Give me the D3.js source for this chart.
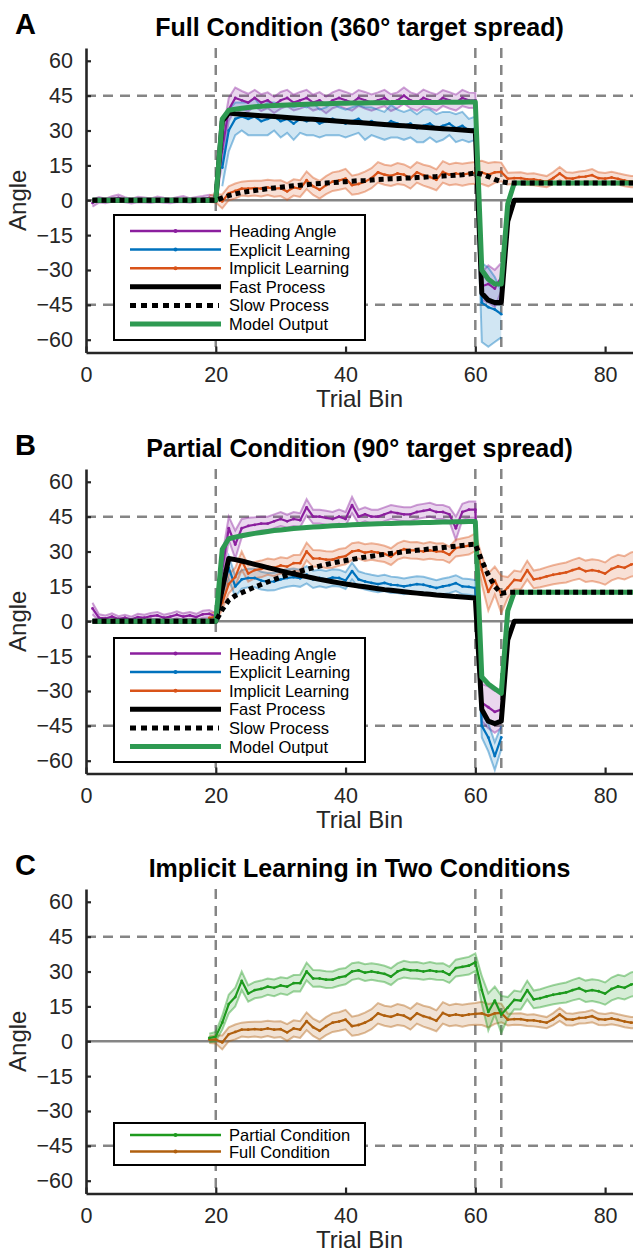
<!DOCTYPE html>
<html>
<head>
<meta charset="utf-8">
<script src="https://cdn.jsdelivr.net/npm/d3@7"></script>
<style>
  body { margin: 0; background: #fff; }
  svg { display: block; font-family: "Liberation Sans", Arial, sans-serif; }
</style>
</head>
<body>
<div id="chart"></div>
<script>
// ---- data ----
var yTicks = [-60, -45, -30, -15, 0, 15, 30, 45, 60];
var xTicks = [0, 20, 40, 60, 80];
var refDashX = [20, 60, 64];
var refDashY = [-45, 45];

// heading angle, bins 1..64
var headA = [-1.2, 0.2, -0.3, 0.5, 1.0, 0.2, -0.4, 0.3, 0.1, -0.2, 0.4, 0.0, -0.3, 0.2, 0.5, -0.1, 0.3, 0.6, 1.0, 0.3,
  22, 39, 44, 43, 42, 44, 42, 43, 41, 43, 44, 42, 43, 44, 42, 43, 41, 43, 44, 43,
  42, 44, 43, 42, 43, 44, 42, 43, 45, 43, 42, 44, 43, 42, 44, 43, 42, 44, 43, 43,
  -37, -36, -38, -33];
var headA_sem = [1.5, 1.2, 1.0, 1.2, 1.4, 1.1, 1.0, 1.2, 1.1, 1.0, 1.2, 1.1, 1.0, 1.1, 1.3, 1.0, 1.1, 1.2, 1.4, 1.2,
  6, 5, 4.5, 4, 3.8, 3.5, 3.6, 3.4, 3.5, 3.6, 3.5, 3.4, 3.6, 3.5, 3.4, 3.5, 3.6, 3.4, 3.5, 3.6,
  3.5, 3.4, 3.6, 3.5, 3.4, 3.5, 3.6, 3.4, 3.5, 3.4, 3.5, 3.6, 3.4, 3.5, 3.4, 3.5, 3.4, 3.5, 3.3, 3.2,
  6, 8, 8, 6];
var headB = [5.5, 1.5, 1.2, 2, 1, 1.5, 0.8, 1.8, 1.5, 2.2, 2.5, 1.5, 2, 2.8, 2, 2.5, 1.8, 3, 3.2, 2,
  22, 40, 33, 40, 41, 41.5, 42, 42, 43, 44, 43, 44, 43.5, 49, 45, 45, 44.5, 44, 45, 44,
  50, 45, 46, 45, 45, 46, 47, 46.5, 46, 46, 47, 47.5, 48, 47, 47, 46, 40, 47, 48, 48,
  -35, -37, -39, -38];
var headB_sem = [2.5, 1.5, 1.3, 1.4, 1.2, 1.3, 1.2, 1.4, 1.3, 1.4, 1.5, 1.3, 1.4, 1.5, 1.4, 1.5, 1.4, 1.5, 1.6, 1.5,
  6, 5, 6, 4, 3.5, 3.2, 3, 3, 3, 3, 2.8, 3, 3, 3.5, 3, 3, 3, 3, 3, 3,
  3.5, 3, 3, 3, 3, 3, 3, 3, 3, 3, 3, 3, 3, 3, 3, 3, 5, 3.5, 3.5, 3.5,
  8, 9, 9, 8];

// explicit learning, bins 21..64
var explA = [14, 30, 35, 36, 35, 36, 34, 35, 36, 34, 35, 33, 35, 34, 35, 33, 34, 35, 34, 33,
  34, 35, 33, 34, 33, 32, 34, 33, 32, 33, 31, 32, 33, 31, 32, 33, 31, 32, 30, 31,
  -44, -46, -47, -49];
var explA_sem = [8, 9, 7, 6, 7, 8, 6, 7, 6, 7, 6, 7, 6, 6, 7, 6, 6, 7, 6, 6,
  6, 6, 7, 6, 6, 6, 7, 6, 6, 6, 6, 7, 6, 6, 6, 5, 6, 6, 5, 5,
  17, 17, 14, 10];
var explB = [12, 23, 15, 18, 18.6, 18.6, 17.5, 17, 17.1, 18, 18.6, 19, 18.5, 20, 18, 18.6, 18, 18.8, 18.6, 17.5,
  21.6, 18, 17.1, 16.5, 16, 16.5, 15.7, 15.5, 15, 15.5, 16, 15.7, 15, 14.3, 15, 15.5, 16.4, 15, 14.8, 14.3,
  -45, -50, -58, -50];
var explB_sem = [5, 5, 4.5, 4, 4, 4, 3.8, 3.8, 3.8, 3.8, 3.8, 3.7, 3.7, 3.7, 3.7, 3.6, 3.6, 3.6, 3.6, 3.6,
  3.6, 3.5, 3.5, 3.5, 3.5, 3.5, 3.5, 3.4, 3.4, 3.4, 3.4, 3.4, 3.4, 3.4, 3.4, 3.4, 3.4, 3.4, 3.4, 3.4,
  5, 6, 6, 5];

// implicit learning, bins 19..85
var implFull = [0.7, 0.8,
  -0.5, 3, 4, 5, 5, 5.2, 5, 5.5, 5, 5.2, 3.8, 5.5, 5, 8.6, 6, 4.5, 6.5, 8, 8.5, 9.3,
  6.5, 7, 8, 9.5, 12, 11, 10.5, 11.5, 11, 9.5, 12, 10.8, 10, 8.8, 12.2, 11, 11.5, 11, 11.5, 11.8,
  12, 11, 12, 12.2, 9.3, 9.5, 9.5, 9, 9, 8.5, 8, 9.5, 11.5, 9.5, 9.3, 10, 10.2, 10.8, 9.5, 9.3,
  9.8, 9.2, 8.5, 8, 8];
var implFull_sem = [1.5, 1.8,
  3, 3, 3.2, 3, 3.3, 3.2, 3.4, 3.3, 3.5, 3.4, 3.6, 3.5, 3.6, 3.8, 3.7, 3.8, 3.9, 4, 4, 4.2,
  4.1, 4.2, 4.3, 4.3, 4.4, 4.3, 4.4, 4.5, 4.4, 4.5, 4.4, 4.5, 4.6, 4.5, 4.6, 4.5, 4.6, 4.7, 4.6, 4.7,
  5, 5, 4.5, 4, 2.5, 2.4, 2.5, 2.4, 2.6, 2.5, 2.4, 2.6, 2.8, 2.6, 2.5, 2.4, 2.5, 2.6, 2.5, 2.4,
  2.5, 2.4, 2.5, 2.4, 2.5];
var implPart = [1.4, 2,
  8, 16, 19, 26, 20.5, 22, 22.5, 23.5, 23, 24, 23.5, 25, 25, 30, 27, 27, 26.5, 26.5, 27.5, 28,
  30, 30.5, 29.5, 30, 29.5, 29, 27.8, 30, 31, 30.5, 30.5, 30, 30.5, 30, 30, 28.6, 31.5, 32, 32.5, 34,
  22, 12.6, 17.5, 11.5, 14.5, 17.8, 17.5, 22, 18, 18.5, 19.3, 20, 20.5, 21, 22, 22.8, 21.5, 22, 21.5, 20.5,
  22.5, 23.6, 23, 24.4, 25];
var implPart_sem = [1.8, 2,
  3, 4, 4, 4, 3.5, 3.5, 3.6, 3.5, 3.6, 3.5, 3.6, 3.5, 3.6, 3.8, 3.6, 3.5, 3.6, 3.5, 3.6, 3.5,
  3.6, 3.5, 3.6, 3.5, 3.6, 3.5, 3.6, 3.5, 3.6, 3.5, 3.6, 3.5, 3.6, 3.5, 3.6, 3.5, 3.6, 3.7, 3.8, 3.8,
  6, 8, 6, 8, 4.5, 4, 3.8, 4, 3.8, 3.9, 4, 4.1, 4.2, 4.3, 4.4, 4.5, 4.6, 4.7, 4.8, 4.8,
  4.9, 5, 5, 5.2, 5.3];

// model states, bins 1..85
var fastA = [0, 0, 0, 0, 0, 0, 0, 0, 0, 0, 0, 0, 0, 0, 0, 0, 0, 0, 0, 0,
  34, 37.5, 37.2, 37, 36.8, 36.6, 36.4, 36.2, 36, 35.8, 35.6, 35.4, 35.2, 35, 34.8, 34.6, 34.4, 34.2, 34, 33.8,
  33.6, 33.4, 33.2, 33, 32.8, 32.6, 32.4, 32.2, 32, 31.8, 31.6, 31.4, 31.2, 31, 30.8, 30.6, 30.4, 30.2, 30, 29.8,
  -40, -43, -44, -44, -9, 0,
  0, 0, 0, 0, 0, 0, 0, 0, 0, 0, 0, 0, 0, 0, 0, 0, 0, 0, 0];
var slowA = [0, 0, 0, 0, 0, 0, 0, 0, 0, 0, 0, 0, 0, 0, 0, 0, 0, 0, 0, 0,
  1, 2, 2.7, 3.3, 3.8, 4.2, 4.6, 5, 5.3, 5.6, 5.9, 6.2, 6.5, 6.7, 7, 7.2, 7.4, 7.6, 7.8, 8,
  8.2, 8.4, 8.5, 8.7, 8.9, 9, 9.2, 9.3, 9.5, 9.6, 9.8, 9.9, 10.1, 10.2, 10.4, 10.6, 10.8, 11, 11.3, 11.8,
  11.2, 10.2, 9, 8, 7.5, 7.4,
  7.4, 7.4, 7.4, 7.4, 7.4, 7.4, 7.4, 7.4, 7.4, 7.4, 7.4, 7.4, 7.4, 7.4, 7.4, 7.4, 7.4, 7.4, 7.4];
var modelA = [0, 0, 0, 0, 0, 0, 0, 0, 0, 0, 0, 0, 0, 0, 0, 0, 0, 0, 0, 0,
  35, 38.7, 39.2, 39.6, 39.9, 40.2, 40.4, 40.6, 40.8, 40.9, 41, 41.1, 41.2, 41.3, 41.4, 41.5, 41.5, 41.6, 41.7, 41.7,
  41.8, 41.8, 41.8, 41.9, 41.9, 41.9, 42, 42, 42, 42, 42.1, 42.1, 42.1, 42.1, 42.2, 42.2, 42.2, 42.2, 42.3, 42.3,
  -30, -34, -36, -36, -1.5, 7.4,
  7.4, 7.4, 7.4, 7.4, 7.4, 7.4, 7.4, 7.4, 7.4, 7.4, 7.4, 7.4, 7.4, 7.4, 7.4, 7.4, 7.4, 7.4, 7.4];
var fastB = [0, 0, 0, 0, 0, 0, 0, 0, 0, 0, 0, 0, 0, 0, 0, 0, 0, 0, 0, 0,
  14, 27, 26.5, 25.9, 25.2, 24.5, 23.8, 23.1, 22.4, 21.7, 21, 20.4, 19.8, 19.2, 18.6, 18, 17.5, 17, 16.5, 16,
  15.6, 15.2, 14.8, 14.4, 14, 13.6, 13.3, 13, 12.7, 12.4, 12.1, 11.8, 11.6, 11.3, 11.1, 10.9, 10.6, 10.4, 10.2, 10,
  -38, -43, -44, -43, -8, 0,
  0, 0, 0, 0, 0, 0, 0, 0, 0, 0, 0, 0, 0, 0, 0, 0, 0, 0, 0];
var slowB = [0, 0, 0, 0, 0, 0, 0, 0, 0, 0, 0, 0, 0, 0, 0, 0, 0, 0, 0, 0,
  5, 9, 11, 12.3, 13.5, 14.7, 15.8, 16.9, 17.9, 18.9, 19.8, 20.7, 21.5, 22.3, 23, 23.7, 24.4, 25, 25.6, 26.1,
  26.6, 27.1, 27.6, 28, 28.4, 28.8, 29.2, 29.5, 29.9, 30.2, 30.5, 30.8, 31.1, 31.4, 31.7, 32, 32.3, 32.6, 32.9, 33.2,
  26, 20, 15, 12, 12.5, 12.5,
  12.5, 12.5, 12.5, 12.5, 12.5, 12.5, 12.5, 12.5, 12.5, 12.5, 12.5, 12.5, 12.5, 12.5, 12.5, 12.5, 12.5, 12.5, 12.5];
var modelB = [0, 0, 0, 0, 0, 0, 0, 0, 0, 0, 0, 0, 0, 0, 0, 0, 0, 0, 0, 0,
  31, 35.5, 36.2, 36.8, 37.3, 37.8, 38.2, 38.6, 39, 39.3, 39.6, 39.9, 40.1, 40.3, 40.5, 40.7, 40.9, 41.1, 41.2, 41.3,
  41.5, 41.6, 41.7, 41.8, 41.9, 42, 42.1, 42.2, 42.3, 42.3, 42.4, 42.5, 42.5, 42.6, 42.7, 42.7, 42.8, 42.8, 42.9, 42.9,
  -24, -27, -29, -31, 4.5, 12.5,
  12.5, 12.5, 12.5, 12.5, 12.5, 12.5, 12.5, 12.5, 12.5, 12.5, 12.5, 12.5, 12.5, 12.5, 12.5, 12.5, 12.5, 12.5, 12.5];

// ---- colours ----
var cHead = "#8B1F9E", cExpl = "#0072BD", cImpl = "#D95319", cModel = "#2E9A52",
    cPart = "#1E9A1E", cFull = "#B0600F", cRef = "#858585", cAxis = "#262626";

// ---- layout ----
var W = 633, H = 1251, PH = 304.5;
var x = d3.scaleLinear().domain([0, 84.3]).range([86, 633]);

var svg = d3.select("#chart").append("svg").attr("width", W).attr("height", H);

function pts(start, vals) {
  return vals.map(function(v, i) { return { b: start + i, v: v }; });
}
function band(start, mean, sem) {
  return mean.map(function(m, i) { return { b: start + i, lo: m - sem[i], hi: m + sem[i] }; });
}

var panels = [
  { top: 48, letter: "A", title: "Full Condition (360° target spread)",
    series: [
      { start: 1, mean: headA, sem: headA_sem, color: cHead },
      { start: 21, mean: explA, sem: explA_sem, color: cExpl },
      { start: 19, mean: implFull, sem: implFull_sem, color: cImpl }],
    fast: fastA, slow: slowA, model: modelA,
    legend: { y0: 167, h: 125, r0: 183, sp: 18.6,
      items: [["Heading Angle", cHead, "data"], ["Explicit Learning", cExpl, "data"], ["Implicit Learning", cImpl, "data"],
              ["Fast Process", "#000", "fast"], ["Slow Process", "#000", "slow"], ["Model Output", cModel, "model"]] } },
  { top: 469, letter: "B", title: "Partial Condition (90° target spread)",
    series: [
      { start: 1, mean: headB, sem: headB_sem, color: cHead },
      { start: 21, mean: explB, sem: explB_sem, color: cExpl },
      { start: 19, mean: implPart, sem: implPart_sem, color: cImpl }],
    fast: fastB, slow: slowB, model: modelB,
    legend: { y0: 169, h: 124, r0: 184.5, sp: 18.6,
      items: [["Heading Angle", cHead, "data"], ["Explicit Learning", cExpl, "data"], ["Implicit Learning", cImpl, "data"],
              ["Fast Process", "#000", "fast"], ["Slow Process", "#000", "slow"], ["Model Output", cModel, "model"]] } },
  { top: 889, letter: "C", title: "Implicit Learning in Two Conditions",
    series: [
      { start: 19, mean: implFull, sem: implFull_sem, color: cFull },
      { start: 19, mean: implPart, sem: implPart_sem, color: cPart }],
    legend: { y0: 234, h: 42, r0: 246, sp: 16.6,
      items: [["Partial Condition", cPart, "data"], ["Full Condition", cFull, "data"]] } }
];

panels.forEach(function(p, pi) {
  var y = d3.scaleLinear().domain([-65.5, 65.5]).range([p.top + PH, p.top]);
  var g = svg.append("g");

  g.append("clipPath").attr("id", "clip" + pi)
    .append("rect").attr("x", x(0)).attr("y", p.top).attr("width", W - x(0)).attr("height", PH);
  var plot = g.append("g").attr("clip-path", "url(#clip" + pi + ")");

  // reference lines
  plot.append("line").attr("x1", x(0)).attr("x2", W).attr("y1", y(0)).attr("y2", y(0))
    .attr("stroke", cRef).attr("stroke-width", 2.5);
  refDashY.forEach(function(v) {
    plot.append("line").attr("x1", x(0)).attr("x2", W).attr("y1", y(v)).attr("y2", y(v))
      .attr("stroke", cRef).attr("stroke-width", 2.5).attr("stroke-dasharray", "10,7");
  });
  refDashX.forEach(function(v) {
    plot.append("line").attr("x1", x(v)).attr("x2", x(v)).attr("y1", p.top).attr("y2", p.top + PH)
      .attr("stroke", cRef).attr("stroke-width", 2.5).attr("stroke-dasharray", "10,7");
  });

  var area = d3.area().x(function(d) { return x(d.b); })
    .y0(function(d) { return y(d.lo); }).y1(function(d) { return y(d.hi); });
  var lineLo = d3.line().x(function(d) { return x(d.b); }).y(function(d) { return y(d.lo); });
  var lineHi = d3.line().x(function(d) { return x(d.b); }).y(function(d) { return y(d.hi); });
  var line = d3.line().x(function(d) { return x(d.b); }).y(function(d) { return y(d.v); });

  // shaded error bands
  p.series.forEach(function(s) {
    var bd = band(s.start, s.mean, s.sem);
    plot.append("path").datum(bd).attr("d", area).attr("fill", s.color).attr("fill-opacity", 0.18);
    [lineLo, lineHi].forEach(function(l) {
      plot.append("path").datum(bd).attr("d", l).attr("fill", "none")
        .attr("stroke", s.color).attr("stroke-opacity", 0.42).attr("stroke-width", 2);
    });
  });
  // mean lines
  p.series.forEach(function(s) {
    var d = pts(s.start, s.mean);
    plot.append("path").datum(d).attr("d", line).attr("fill", "none")
      .attr("stroke", s.color).attr("stroke-width", 2.2).attr("stroke-linejoin", "round");
    plot.selectAll(null).data(d).enter().append("circle")
      .attr("cx", function(q) { return x(q.b); }).attr("cy", function(q) { return y(q.v); })
      .attr("r", 1.4).attr("fill", s.color);
  });

  // model states
  if (p.fast) {
    plot.append("path").datum(pts(1, p.fast)).attr("d", line).attr("fill", "none")
      .attr("stroke", "#000").attr("stroke-width", 5).attr("stroke-linejoin", "round");
    plot.append("path").datum(pts(1, p.model)).attr("d", line).attr("fill", "none")
      .attr("stroke", cModel).attr("stroke-width", 5).attr("stroke-linejoin", "round");
    plot.append("path").datum(pts(1, p.slow)).attr("d", line).attr("fill", "none")
      .attr("stroke", "#000").attr("stroke-width", 5).attr("stroke-dasharray", "5,4");
  }

  // legend
  var L = p.legend;
  var lg = g.append("g");
  lg.append("rect").attr("x", 114).attr("y", p.top + L.y0).attr("width", 251).attr("height", L.h)
    .attr("fill", "#fff").attr("stroke", "#000").attr("stroke-width", 2);
  L.items.forEach(function(it, i) {
    var ry = p.top + L.r0 + i * L.sp;
    var ln = lg.append("line").attr("x1", 130).attr("x2", 221).attr("y1", ry).attr("y2", ry).attr("stroke", it[1]);
    if (it[2] === "data") {
      ln.attr("stroke-width", 2.5);
      lg.append("circle").attr("cx", 175.5).attr("cy", ry).attr("r", 2).attr("fill", it[1]);
    } else if (it[2] === "slow") {
      ln.attr("stroke-width", 5).attr("stroke-dasharray", "6,5").attr("x2", 219);
    } else {
      ln.attr("stroke-width", 5);
    }
    lg.append("text").attr("x", 229).attr("y", ry + 6).attr("font-size", "16.5px").attr("fill", "#000").text(it[0]);
  });

  // axes
  var ya = g.append("g").attr("transform", "translate(" + x(0) + ",0)")
    .call(d3.axisLeft(y).tickValues(yTicks).tickSizeInner(-5).tickSizeOuter(0).tickPadding(13));
  var xa = g.append("g").attr("transform", "translate(0," + (p.top + PH) + ")")
    .call(d3.axisBottom(x).tickValues(xTicks).tickSizeInner(-6).tickSizeOuter(0).tickPadding(14));
  [ya, xa].forEach(function(a) {
    a.select(".domain").attr("stroke", cAxis).attr("stroke-width", 2.6);
    a.selectAll(".tick line").attr("stroke", cAxis).attr("stroke-width", 2.2);
    a.selectAll(".tick text").attr("fill", cAxis).attr("font-size", "21.5px")
      .attr("font-family", "Liberation Sans, Arial, sans-serif");
  });

  // text
  g.append("text").attr("x", 359.5).attr("y", p.top - 12).attr("text-anchor", "middle")
    .attr("font-size", "25px").attr("font-weight", "bold").attr("fill", "#000").text(p.title);
  g.append("text").attr("x", 15).attr("y", p.top - 14)
    .attr("font-size", "29px").attr("font-weight", "bold").attr("fill", "#000").text(p.letter);
  g.append("text").attr("x", 359.5).attr("y", p.top + PH + 54).attr("text-anchor", "middle")
    .attr("font-size", "24px").attr("fill", cAxis).text("Trial Bin");
  g.append("text").attr("transform", "translate(26," + y(0) + ") rotate(-90)").attr("text-anchor", "middle")
    .attr("font-size", "24px").attr("fill", cAxis).text("Angle");
});
</script>
</body>
</html>
